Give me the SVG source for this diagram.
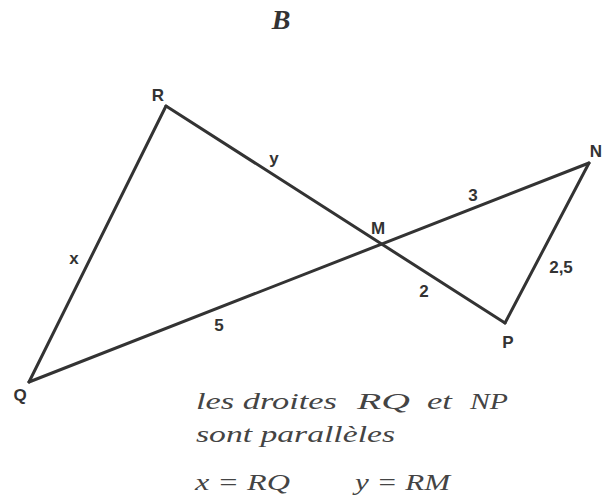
<svg xmlns="http://www.w3.org/2000/svg" width="611" height="502" viewBox="0 0 611 502">
<style>
.seg{stroke:#333;stroke-width:3;fill:none;stroke-linecap:round;stroke-linejoin:round}
.lbl{font-family:"Liberation Sans",Arial,sans-serif;font-weight:bold;font-size:17px;fill:#333;text-anchor:middle}
.it{font-family:"Liberation Serif","Times New Roman",serif;font-style:italic;font-size:24px;fill:#444}
.title{font-family:"Liberation Serif","Times New Roman",serif;font-style:italic;font-weight:bold;font-size:28px;fill:#333;text-anchor:middle}
</style>
<rect width="611" height="502" fill="#fff"/>
<text class="title" x="281" y="29">B</text>
<g id="connectors">
<line class="seg" x1="166" y1="106" x2="29" y2="382"/>
<line class="seg" x1="166" y1="106" x2="505" y2="323"/>
<line class="seg" x1="29" y1="382" x2="589" y2="163"/>
<line class="seg" x1="589" y1="163" x2="505" y2="323"/>
</g>
<g id="R"><text class="lbl" x="158" y="101">R</text></g>
<g id="Q"><text class="lbl" x="20" y="401">Q</text></g>
<g id="N"><text class="lbl" x="596" y="157">N</text></g>
<g id="P"><text class="lbl" x="508" y="348">P</text></g>
<g id="M"><text class="lbl" x="378" y="234">M</text></g>
<g id="lengths">
<text class="lbl" x="274" y="164">y</text>
<text class="lbl" x="74" y="264">x</text>
<text class="lbl" x="219" y="331">5</text>
<text class="lbl" x="473" y="201">3</text>
<text class="lbl" x="424" y="297">2</text>
<text class="lbl" x="561" y="273">2,5</text>
</g>
<g id="caption">
<text class="it" x="196" y="409" textLength="141" lengthAdjust="spacingAndGlyphs">les droites</text>
<text class="it" x="357" y="409" textLength="53" lengthAdjust="spacingAndGlyphs">RQ</text>
<text class="it" x="427" y="409" textLength="25" lengthAdjust="spacingAndGlyphs">et</text>
<text class="it" x="470" y="409" textLength="38" lengthAdjust="spacingAndGlyphs">NP</text>
<text class="it" x="196" y="442" textLength="199" lengthAdjust="spacingAndGlyphs">sont parallèles</text>
<text class="it" x="195" y="490" textLength="95" lengthAdjust="spacingAndGlyphs">x = RQ</text>
<text class="it" x="355" y="490" textLength="95" lengthAdjust="spacingAndGlyphs">y = RM</text>
</g>
</svg>
